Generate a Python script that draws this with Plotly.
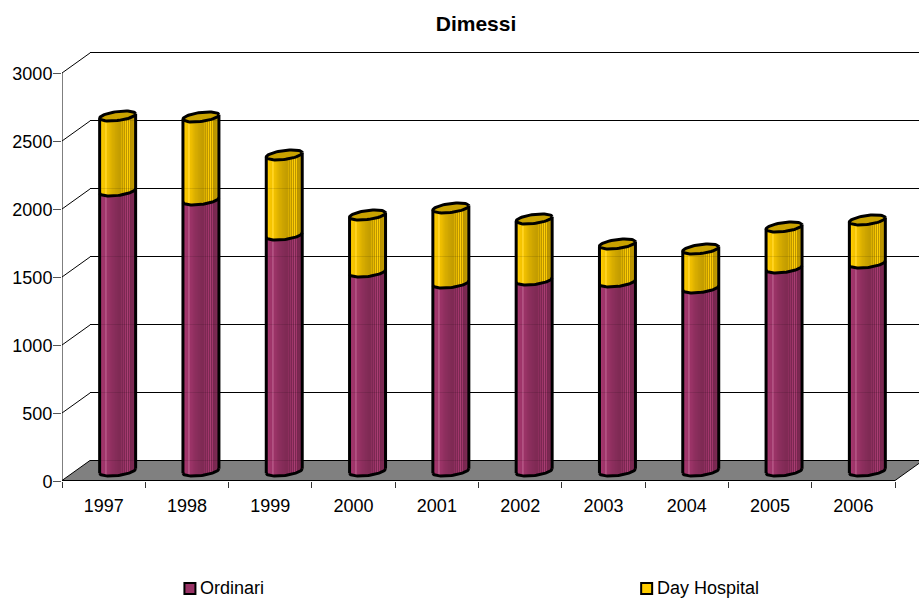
import numpy as np
import plotly.graph_objects as go

years = ["1997", "1998", "1999", "2000", "2001", "2002", "2003", "2004", "2005", "2006"]
ordinari = [2059, 1993, 1735, 1463, 1382, 1404, 1390, 1346, 1493, 1529]
day_hospital = [551, 610, 589, 419, 552, 449, 279, 286, 301, 317]
y_ticks = [0, 500, 1000, 1500, 2000, 2500, 3000]

# Pixel scale of the plot
PX_X = 83.35            # pixels per category
PX_Y = 0.136            # pixels per value unit
L, T, B = 61.5, 50, 481
W, H = 919, 598
DEPTH_X = 28 / PX_X     # 3D depth offset of the back wall
DEPTH_Y = 20 / PX_Y
MID_X, MID_Y = DEPTH_X / 2, DEPTH_Y / 2
CRISP = 0.5 / PX_Y      # half a pixel, keeps horizontal rules sharp
R = 18                  # cylinder radius, px
TILT, SEMI = 2.2, 4.5   # ellipse shape, px

# Horizontal shading of a cylinder, left to right (>1 blends towards white)
shade = [1.00, 1.00, 1.00, 0.98, 0.97, 0.96, 1.14, 1.10, 0.94, 0.93, 0.91, 0.89, 0.87, 0.85, 0.84, 0.83,
         0.81, 0.80, 0.79, 0.78, 0.77, 0.77, 0.85, 0.75, 0.90, 0.74, 0.98, 0.74, 1.04, 0.74, 0.98,
         0.72, 0.74, 0.74, 0.76, 0.80]


def tint(base, k):
    if k > 1:
        return "rgb(%d,%d,%d)" % tuple(int(c + (255 - c) * (k - 1)) for c in base)
    return "rgb(%d,%d,%d)" % tuple(int(c * k) for c in base)


PURPLE, YELLOW = (165, 55, 110), (255, 204, 0)
us = (np.arange(R * 2) + 0.5 - R) / R


def front(u):
    """Height in value units of the front rim of the ellipse at relative position u."""
    return (TILT * u - SEMI * np.sqrt(1 - u ** 2)) / PX_Y


def strips(bottom, height):
    xs, bases, ys = [], [], []
    for i in range(len(years)):
        for u in us:
            xs.append(i + 0.5 + MID_X + u * R / PX_X)
            bases.append(MID_Y + bottom[i] + front(u))
            ys.append(height[i])
    return xs, bases, ys


def ellipse(i, level, t):
    cx = i + 0.5 + MID_X
    return (cx + np.cos(t) * R / PX_X,
            MID_Y + level + (TILT * np.cos(t) - SEMI * np.sin(t)) / PX_Y)


fig = go.Figure()
zeros = [0] * len(years)
totals = [a + b for a, b in zip(ordinari, day_hospital)]
for name, bottom, height, base in [("Ordinari", zeros, ordinari, PURPLE),
                                   ("Day Hospital", ordinari, day_hospital, YELLOW)]:
    xs, bases, ys = strips(bottom, height)
    fig.add_trace(go.Bar(x=xs, y=ys, base=bases, width=1.02 / PX_X, name=name, showlegend=False,
                         marker=dict(color=[tint(base, k) for _ in years for k in shade], line_width=0),
                         hoverinfo="skip"))

# top caps
full = np.linspace(0, 2 * np.pi, 60)
cap_x, cap_y = [], []
for i in range(len(years)):
    ex, ey = ellipse(i, totals[i], full)
    cap_x += list(ex) + [None]
    cap_y += list(ey) + [None]
fig.add_trace(go.Scatter(x=cap_x, y=cap_y, mode="lines", fill="toself", fillcolor="#C9A200",
                         line=dict(color="black", width=3), showlegend=False, hoverinfo="skip"))

# outlines: sides plus front rims
ol_x, ol_y = [], []
for i in range(len(years)):
    for level in (0, ordinari[i]):
        ex, ey = ellipse(i, level, np.linspace(0, np.pi, 40))
        ol_x += list(ex) + [None]
        ol_y += list(ey) + [None]
    for t in (0.0, np.pi):
        ax, ay = ellipse(i, 0, t)
        bx, by = ellipse(i, totals[i], t)
        ol_x += [ax, bx, None]
        ol_y += [ay, by, None]
fig.add_trace(go.Scatter(x=ol_x, y=ol_y, mode="lines", line=dict(color="black", width=3),
                         showlegend=False, hoverinfo="skip"))

x_end = (W - L) / PX_X
n = len(years)
shapes = [
    dict(type="path", xref="x", yref="y", layer="below", fillcolor="#808080",
         line=dict(color="black", width=1),
         path=f"M0,{CRISP} L{n},{CRISP} L{n + DEPTH_X},{DEPTH_Y + CRISP} L{DEPTH_X},{DEPTH_Y + CRISP} Z"),
    dict(type="line", xref="x", yref="y", layer="below", x0=0, x1=0, y0=0, y1=y_ticks[-1],
         line=dict(color="black", width=1)),
]
for v in y_ticks:
    if v > 0:
        shapes.append(dict(type="line", xref="x", yref="y", layer="below", x0=DEPTH_X, x1=x_end,
                           y0=v + DEPTH_Y + CRISP, y1=v + DEPTH_Y + CRISP, line=dict(color="black", width=1)))
        shapes.append(dict(type="line", xref="x", yref="y", layer="below", x0=0, x1=DEPTH_X,
                           y0=v, y1=v + DEPTH_Y, line=dict(color="black", width=1)))
    # faint show-through across the cylinders
    shapes.append(dict(type="line", xref="x", yref="y", layer="above", x0=DEPTH_X, x1=x_end,
                       y0=v + DEPTH_Y + CRISP, y1=v + DEPTH_Y + CRISP, line=dict(color="black", width=1),
                       opacity=0.1))

# legend swatches
for px0, col in [(184, "#993366"), (641, "#FFCC00")]:
    shapes.append(dict(type="rect", xref="paper", yref="paper",
                       x0=(px0 - L) / (W - L), x1=(px0 + 11 - L) / (W - L),
                       y0=(B - 594) / (B - T), y1=(B - 583) / (B - T),
                       fillcolor=col, line=dict(color="black", width=2)))

annots = [
    dict(text="Ordinari", x=(197.5 - L) / (W - L), y=(B - 588) / (B - T)),
    dict(text="Day Hospital", x=(655 - L) / (W - L), y=(B - 588) / (B - T)),
]
for a in annots:
    a.update(xref="paper", yref="paper", xanchor="left", yanchor="middle", showarrow=False,
             font=dict(family="Liberation Sans", size=18, color="black"))

fig.update_layout(
    width=W, height=H, margin=dict(l=L, r=0, t=T, b=H - B),
    paper_bgcolor="white", plot_bgcolor="white", barmode="overlay", showlegend=False,
    title=dict(text="<b>Dimessi</b>", x=476 / W, xanchor="center", y=1 - 24 / H, yanchor="middle",
               font=dict(family="Liberation Sans", size=21, color="black")),
    font=dict(family="Liberation Sans", size=18, color="black"),
    shapes=shapes, annotations=annots,
    xaxis=dict(range=[0, x_end], tickmode="array", tickvals=[i + 0.5 for i in range(n)], ticktext=years,
               ticks="", showgrid=False, zeroline=False, showline=False, ticklabelstandoff=12,
               minor=dict(tickmode="array", tickvals=list(range(n + 1)), ticks="outside", ticklen=6,
                          tickcolor="#333333", tickwidth=1, showgrid=False)),
    yaxis=dict(range=[0, (B - T) / PX_Y], tickmode="array", tickvals=y_ticks, ticks="outside", ticklen=8,
               tickcolor="#555555", tickwidth=1, showgrid=False, zeroline=False, showline=False,
               ticklabelstandoff=-3, ticklabelshift=1),
)
fig.write_html("out.html", config={"displayModeBar": False},
               post_script="document.body.style.margin='0';document.body.style.overflow='hidden';")
